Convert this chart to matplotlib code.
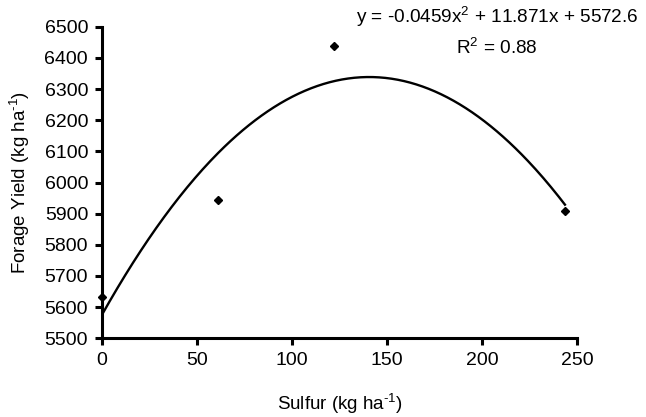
import numpy as np
import matplotlib
matplotlib.use("Agg")
import matplotlib.pyplot as plt

plt.rcParams['font.family'] = ['Liberation Sans', 'DejaVu Sans']
plt.rcParams['mathtext.fontset'] = 'custom'
plt.rcParams['mathtext.rm'] = 'Liberation Sans'
plt.rcParams['mathtext.it'] = 'Liberation Sans'

# Data (x in axis units)
sulfur = [0, 61, 122, 243.5]
forage_yield = [5632, 5944, 6438, 5910]
equation_text = "y = -0.0459x$^2$ + 11.871x + 5572.6\nR$^2$ = 0.88"
x_ticks = [0, 50, 100, 150, 200, 250]
y_ticks = [5500, 5600, 5700, 5800, 5900, 6000, 6100, 6200, 6300, 6400, 6500]

fig = plt.figure(figsize=(6.46, 4.17), dpi=100)
ax = fig.add_axes([102/646, 1-338.3/417, (577.3-102)/646, (338.3-26.7)/417])

coef = np.polyfit(sulfur, forage_yield, 2)
xs = np.linspace(min(sulfur), max(sulfur), 300)
ax.plot(xs, np.polyval(coef, xs), color='black', lw=1.7, zorder=2)
ax.plot(sulfur, forage_yield, linestyle='none', marker='D', ms=4.5,
        color='black', zorder=3, clip_on=False)

ax.set_xlim(0, 250)
ax.set_ylim(5500, 6500)
ax.set_xticks(x_ticks)
ax.set_yticks(y_ticks)
for s in ['top', 'right']:
    ax.spines[s].set_visible(False)
for s in ['left', 'bottom']:
    ax.spines[s].set_linewidth(2.2)
ax.tick_params(direction='out', length=5, width=2.2, labelsize=14, pad=5)

ax.set_xlabel("Sulfur (kg ha$^{\\text{-1}}$)", fontsize=13.5, labelpad=16)
ax.set_ylabel("Forage Yield (kg ha$^{\\text{-1}}$)", fontsize=13.5, labelpad=9)

fig.text(497/646, 1-31/417, equation_text, ha='center', va='center',
         fontsize=13.7, multialignment='center', linespacing=1.55)

fig.savefig("out.png", dpi=100, facecolor='white')
